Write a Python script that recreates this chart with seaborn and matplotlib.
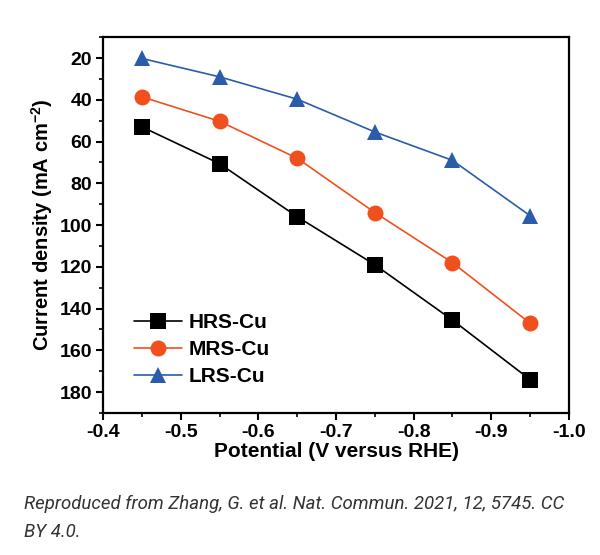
import pandas as pd
import matplotlib
matplotlib.use("Agg")
import matplotlib.pyplot as plt
import seaborn as sns
from matplotlib.ticker import MultipleLocator

# values
potential = [-0.45, -0.55, -0.65, -0.75, -0.85, -0.95]
hrs_cu = [53, 70.6, 96, 119, 145.5, 174]
mrs_cu = [38.6, 50.3, 68, 94, 118, 147]
lrs_cu = [20.2, 29, 39.7, 55.4, 69, 95.5]
series_names = ["HRS-Cu", "MRS-Cu", "LRS-Cu"]
colors = ["#000000", "#F0501E", "#2A5CAA"]
markers = ["s", "o", "^"]

df = pd.DataFrame({
    "Potential": potential * 3,
    "Current": hrs_cu + mrs_cu + lrs_cu,
    "Sample": [n for n in series_names for _ in potential],
})

sns.set_style("ticks", {"axes.edgecolor": "black", "text.color": "black",
                        "axes.labelcolor": "black", "xtick.color": "black",
                        "ytick.color": "black"})
plt.rcParams["font.family"] = ["Liberation Sans", "DejaVu Sans"]
plt.rcParams["mathtext.fontset"] = "custom"
plt.rcParams["mathtext.bf"] = "Liberation Sans:bold"
plt.rcParams["mathtext.rm"] = "Liberation Sans:bold"
plt.rcParams["mathtext.default"] = "bf"

fig = plt.figure(figsize=(6, 5.55), dpi=100)
ax = fig.add_axes([0.172, 0.256, 0.776, 0.677])

for name, col, mk in zip(series_names, colors, markers):
    sub = df[df["Sample"] == name]
    sns.lineplot(data=sub, x="Potential", y="Current", color=col, marker=mk,
                 markersize=11.5, markeredgewidth=0, linewidth=1.2, label=name, ax=ax)

ax.set_xlim(-0.4, -1.0)
ax.set_ylim(190, 10)
ax.set_xticks([-0.4, -0.5, -0.6, -0.7, -0.8, -0.9, -1.0])
ax.set_xticklabels(["-0.4", "-0.5", "-0.6", "-0.7", "-0.8", "-0.9", "-1.0"])
ax.xaxis.set_minor_locator(MultipleLocator(0.05))
ax.set_yticks([20, 40, 60, 80, 100, 120, 140, 160, 180])
ax.yaxis.set_minor_locator(MultipleLocator(10))

ax.tick_params(which="major", direction="out", length=5, width=1.5, labelsize=14, pad=3)
ax.tick_params(which="minor", direction="out", length=3, width=1.2)
for lab in ax.get_xticklabels() + ax.get_yticklabels():
    lab.set_fontweight("bold")
for sp in ax.spines.values():
    sp.set_linewidth(1.6)
    sp.set_visible(True)

ax.set_xlabel("Potential (V versus RHE)", fontsize=15, fontweight="bold", labelpad=1)
ax.set_ylabel("Current density (mA cm$^{-2}$)", fontsize=14.5, fontweight="bold", labelpad=3)

leg = ax.legend(loc="lower left", bbox_to_anchor=(0.025, 0.022), frameon=False,
                handlelength=2.3, handletextpad=0.35, labelspacing=0.38,
                prop={"weight": "bold", "size": 15})

fig.text(0.04, 0.082, "Reproduced from Zhang, G. et al. Nat. Commun. 2021, 12, 5745. CC",
         fontsize=13.4, style="italic", color="#333333", family="Roboto")
fig.text(0.04, 0.033, "BY 4.0.", fontsize=13.4, style="italic", color="#333333", family="Roboto")

fig.savefig("out.png", dpi=100)
